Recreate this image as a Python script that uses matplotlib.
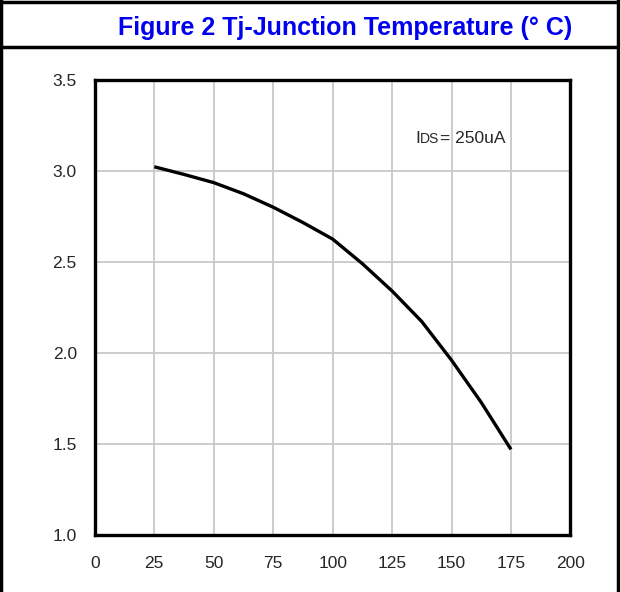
import matplotlib.pyplot as plt
from matplotlib.lines import Line2D

# values
temp = [25, 37.5, 50, 62.5, 75, 87.5, 100, 112.5, 125, 137.5, 150, 162.5, 175]
vth = [3.022, 2.98, 2.935, 2.874, 2.80, 2.716, 2.625, 2.49, 2.34, 2.172, 1.96, 1.728, 1.47]
xticks = [0, 25, 50, 75, 100, 125, 150, 175, 200]
yticks = [1.0, 1.5, 2.0, 2.5, 3.0, 3.5]

font = ['Liberation Sans', 'DejaVu Sans']

fig = plt.figure(figsize=(6.2, 5.92), dpi=100)
ax = fig.add_axes([0.153, 0.0963, 0.767, 0.769])

ax.plot(temp, vth, color='black', lw=2.4, solid_capstyle='butt', solid_joinstyle='round')
ax.set_xlim(0, 200)
ax.set_ylim(1.0, 3.5)
ax.set_xticks(xticks)
ax.set_yticks(yticks)
ax.set_xticklabels([str(t) for t in xticks], family=font, fontsize=12.5, color='#262626')
ax.set_yticklabels(['%.1f' % t for t in yticks], family=font, fontsize=12.5, color='#262626')
ax.tick_params(length=0)
ax.tick_params(axis='x', pad=15)
ax.tick_params(axis='y', pad=13)
ax.grid(True, color='#c8c8c8', lw=1.3)
ax.set_axisbelow(True)
for s in ax.spines.values():
    s.set_linewidth(2.4)
    s.set_color('black')

ax.text(135, 3.18, 'I', family=font, fontsize=12.5, ha='left', va='center', color='#262626')
ax.text(136.6, 3.175, 'DS', family=font, fontsize=10, ha='left', va='center', color='#262626')
ax.text(145.2, 3.18, '= 250uA', family=font, fontsize=12.5, ha='left', va='center', color='#262626')

fig.text(0.557, 0.953, 'Figure 2 Tj-Junction Temperature (° C)', color='#0000ee',
         fontsize=18, fontweight='bold', family=font,
         ha='center', va='center')

# outer frame like the datasheet table cell
for xs, ys in [([0.002, 0.002], [0, 1]), ([0.996, 0.996], [0, 1]),
               ([0, 1], [0.997, 0.997]), ([0, 1], [0.9206, 0.9206])]:
    fig.add_artist(Line2D(xs, ys, color='black', lw=2.5, transform=fig.transFigure))

fig.savefig('out.png', dpi=100)
